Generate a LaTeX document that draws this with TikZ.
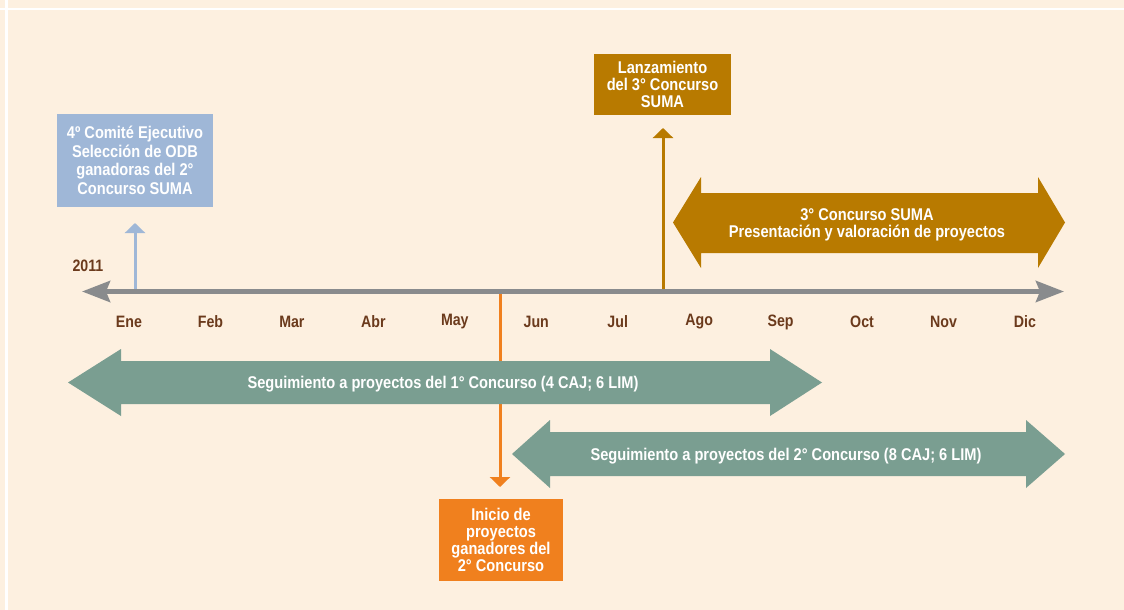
\documentclass[tikz,border=0pt]{standalone}
\usepackage{fontspec}
\setmainfont{Liberation Sans}[FakeStretch=0.86]
\usetikzlibrary{arrows.meta}
\definecolor{bg}{HTML}{FDF0E0}
\definecolor{axisgray}{HTML}{898B8D}
\definecolor{bluebox}{HTML}{9FB7D7}
\definecolor{goldbox}{HTML}{B87A00}
\definecolor{orangebox}{HTML}{F0801E}
\definecolor{tealarrow}{HTML}{7A9E91}
\definecolor{browntext}{HTML}{6B3A1C}
\tikzset{
  boxstyle/.style={draw=none, inner sep=0pt, text=white, align=center,
    font=\bfseries\fontsize{17}{17.2}\selectfont},
  bandtext/.style={inner sep=0pt, text=white, align=center,
    font=\bfseries\fontsize{17}{17.2}\selectfont},
  monthlabel/.style={inner sep=0pt, text=browntext, font=\bfseries\fontsize{16.5}{18}\selectfont},
  pointer/.style={line width=3pt, -{Triangle[width=20pt,length=10pt]}},
  axisline/.style={draw=axisgray, line width=5pt,
    {Stealth[length=28pt,width=21pt,inset=4pt,color=axisgray]}-{Stealth[length=28pt,width=21pt,inset=4pt,color=axisgray]}},
}
\begin{document}
\begin{tikzpicture}[x=1pt,y=-1pt]
\useasboundingbox (0,0) rectangle (1124,610);
\fill[bg] (0,0) rectangle (1124,610);
\draw[white,line width=3pt] (6.5,0) -- (6.5,610);
\draw[white,line width=2.5pt] (0,9) -- (1124,9);

% coordinates
\coordinate (axL) at (82,291.5);
\coordinate (axR) at (1064,291.5);
\coordinate (blueS) at (135,289);
\coordinate (blueT) at (135,223);
\coordinate (goldS) at (663,289);
\coordinate (goldT) at (663,128);
\coordinate (orS) at (500,293);
\coordinate (orT) at (500,487);

% orange pointer (behind teal band)
\draw[pointer, draw=orangebox, color=orangebox] (orS) -- (orT);

% teal bands
\fill[tealarrow] (68,382.5) -- (121,349) -- (121,361) -- (770,361) -- (770,349) -- (822,382.5)
  -- (770,416) -- (770,404) -- (121,404) -- (121,416) -- cycle;
\node[bandtext] (t1) at (443,384) {Seguimiento a proyectos del 1° Concurso (4 CAJ; 6 LIM)};
\fill[tealarrow] (512,454) -- (550,420) -- (550,432) -- (1026,432) -- (1026,420) -- (1065,454)
  -- (1026,488) -- (1026,476) -- (550,476) -- (550,488) -- cycle;
\node[bandtext] (t2) at (786,456) {Seguimiento a proyectos del 2° Concurso (8 CAJ; 6 LIM)};

% gold band
\fill[goldbox] (673,222.5) -- (701,177) -- (701,193) -- (1038,193) -- (1038,177) -- (1065,222.5)
  -- (1038,268) -- (1038,253) -- (701,253) -- (701,268) -- cycle;
\node[bandtext] (t3) at (867,224.5) {3° Concurso SUMA\\Presentación y valoración de proyectos};

% pointers up
\draw[pointer, draw=bluebox, color=bluebox] (blueS) -- (blueT);
\draw[pointer, draw=goldbox, color=goldbox] (goldS) -- (goldT);

% axis
\draw[axisline] (axL) -- (axR);

% boxes
\node[boxstyle, fill=bluebox, minimum width=156pt, minimum height=93pt,
  font=\bfseries\fontsize{17}{18.6}\selectfont] (blue) at (135,160.5)
  {4º Comité Ejecutivo\\Selección de ODB\\ganadoras del 2°\\Concurso SUMA};
\node[boxstyle, fill=goldbox, minimum width=137pt, minimum height=61pt] (gold) at (662.5,84.5)
  {Lanzamiento\\del 3° Concurso\\SUMA};
\node[boxstyle, fill=orangebox, minimum width=124pt, minimum height=82pt] (orange) at (501,540)
  {Inicio de\\proyectos\\ganadores del\\2° Concurso};

% year and months
\node[monthlabel] (year) at (88,266) {2011};
\foreach \m [count=\i from 0] in {Ene,Feb,Mar,Abr,May,Jun,Jul,Ago,Sep,Oct,Nov,Dic}{
  \node[monthlabel] (m\i) at (129+81.45*\i,322) {\m};
}
\end{tikzpicture}
\end{document}
